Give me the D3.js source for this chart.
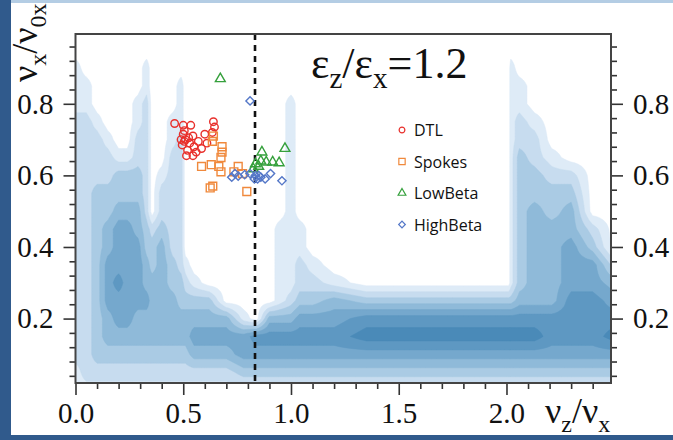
<!DOCTYPE html>
<html>
<head>
<meta charset="utf-8">
<script src="https://cdn.jsdelivr.net/npm/d3@7"></script>
<style>
body { margin: 0; background: #fff; }
svg { display: block; }
</style>
</head>
<body>
<div id="chart"></div>
<script>
// ---- data ----
var dtl = [[0.46, 0.745], [0.50, 0.74], [0.535, 0.74], [0.505, 0.725], [0.64, 0.75], [0.645, 0.735],
    [0.635, 0.72], [0.60, 0.715], [0.50, 0.715], [0.51, 0.70], [0.525, 0.705], [0.545, 0.71],
    [0.55, 0.68], [0.52, 0.67], [0.56, 0.665], [0.515, 0.655], [0.585, 0.675], [0.61, 0.69],
    [0.495, 0.685], [0.53, 0.69], [0.57, 0.695], [0.545, 0.655], [0.505, 0.695], [0.49, 0.70]];
var spokes = [[0.64, 0.71], [0.635, 0.695], [0.68, 0.68], [0.68, 0.665], [0.675, 0.65], [0.585, 0.625],
    [0.63, 0.63], [0.665, 0.625], [0.675, 0.61], [0.625, 0.565], [0.637, 0.57], [0.755, 0.625],
    [0.795, 0.555], [0.735, 0.61], [0.775, 0.605]];
var lowBeta = [[0.672, 0.87], [0.865, 0.665], [0.972, 0.675], [0.915, 0.637], [0.945, 0.635],
    [0.885, 0.637], [0.835, 0.632], [0.85, 0.625], [0.825, 0.618], [0.86, 0.64]];
var highBeta = [[0.81, 0.808], [0.725, 0.595], [0.755, 0.598], [0.785, 0.602], [0.81, 0.605],
    [0.835, 0.60], [0.845, 0.59], [0.86, 0.595], [0.88, 0.59], [0.905, 0.605], [0.958, 0.585],
    [0.83, 0.59], [0.85, 0.60], [0.74, 0.605]];

var seriesNames = ["DTL", "Spokes", "LowBeta", "HighBeta"];
var seriesColors = ["#e8302c", "#f0893c", "#35a03c", "#5578c8"];
var xTicks = [0.0, 0.5, 1.0, 1.5, 2.0];
var yTicks = [0.2, 0.4, 0.6, 0.8];
var resonanceX = 0.833;

// density map behind the points: level per grid node (columns at gridX, rows at gridY, bottom -> top)
var gridX = [0.00, 0.05, 0.10, 0.15, 0.20, 0.24, 0.29, 0.33, 0.355, 0.40, 0.45, 0.49, 0.51, 0.55, 0.62,
    0.70, 0.78, 0.84, 0.90, 0.95, 1.00, 1.04, 1.10, 1.20, 1.35, 1.50, 1.65, 1.80, 1.95, 2.01, 2.02,
    2.06, 2.13, 2.21, 2.30, 2.40, 2.50];
var gridY = [0.00, 0.05, 0.10, 0.15, 0.20, 0.25, 0.30, 0.35, 0.40, 0.45, 0.50, 0.55, 0.60, 0.65,
    0.70, 0.75, 0.80, 0.85, 0.90, 0.95, 1.00];
var levelColumns = [
    "112222222222222211100",
    "122222222222222211000",
    "123333333333222100000",
    "123445554433221000000",
    "123455655543310000000",
    "123455555543310000000",
    "123445555443322110000",
    "123445443322222221100",
    "123444433200000000000",
    "123444444322100000000",
    "123444332222221100000",
    "123443322222222111000",
    "123443210000000000000",
    "124543100000000000000",
    "124543000000000000000",
    "124540000000000000000",
    "135510000000000000000",
    "135600000000000000000",
    "135640000000000000000",
    "135641111100000000000",
    "135642111111111110000",
    "135653221100000000000",
    "135653210000000000000",
    "135654100000000000000",
    "135763000000000000000",
    "135763000000000000000",
    "135763000000000000000",
    "135763000000000000000",
    "135763000000000000000",
    "135763000000000000000",
    "135763111111111111100",
    "135764333333332211000",
    "135764444443322100000",
    "135664444433210000000",
    "135666555443200000000",
    "135666553200000000000",
    "135765420000000000000"
];
var levelThresholds = [0.5, 1.5, 2.5, 3.5, 4.5, 5.5, 6.5];
var levelColors = ["#deebf7", "#c7dcef", "#aacbe4", "#8fbad9", "#75a8cd", "#5e98c2", "#4a8ab8"];

// ---- layout ----
var W = 673, H = 440;
var serif = "'Liberation Serif', 'Times New Roman', serif";

var svg = d3.select("#chart").append("svg").attr("width", W).attr("height", H);

// slide border
svg.append("rect").attr("x", 0).attr("y", 0).attr("width", W).attr("height", 3).attr("fill", "#b4cde4");
svg.append("rect").attr("x", 0).attr("y", 0).attr("width", 11).attr("height", H).attr("fill", "#305a8c");
svg.append("rect").attr("x", 0).attr("y", 435).attr("width", W).attr("height", 5).attr("fill", "#305a8c");

var x = d3.scaleLinear().domain([0, 2.485]).range([75.5, 611]);
var y = d3.scaleLinear().domain([0.02, 0.995]).range([383, 34]);

svg.append("clipPath").attr("id", "plotClip").append("rect")
    .attr("x", x.range()[0]).attr("y", y.range()[1])
    .attr("width", x.range()[1] - x.range()[0]).attr("height", y.range()[0] - y.range()[1]);

// contour layers: the coarse grid is refined (bilinear) so the bands come out smooth
var nx = gridX.length, ny = gridY.length;
var f = 6;
var fx = (nx - 1) * f + 1, fy = (ny - 1) * f + 1;
function level(i, j) { return +levelColumns[i][j]; }
var values = new Array(fx * fy);
for (var J = 0; J < fy; J++) {
    var j0 = Math.min(Math.floor(J / f), ny - 2), v = J / f - j0;
    for (var I = 0; I < fx; I++) {
        var i0 = Math.min(Math.floor(I / f), nx - 2), u = I / f - i0;
        values[J * fx + I] = (1 - u) * (1 - v) * level(i0, j0) + u * (1 - v) * level(i0 + 1, j0)
            + (1 - u) * v * level(i0, j0 + 1) + u * v * level(i0 + 1, j0 + 1);
    }
}
function gridToData(c, arr) {
    var t = (c - 0.5) / f;
    if (t <= 0) return arr[0];
    if (t >= arr.length - 1) return arr[arr.length - 1];
    var k = Math.floor(t);
    return arr[k] + (t - k) * (arr[k + 1] - arr[k]);
}
var contours = d3.contours().size([fx, fy]).smooth(true).thresholds(levelThresholds)(values);
var path = d3.geoPath(d3.geoTransform({
    point: function (px, py) {
        this.stream.point(x(gridToData(px, gridX)), y(gridToData(py, gridY)));
    }
}));
svg.append("g").attr("clip-path", "url(#plotClip)")
    .selectAll("path")
    .data(contours)
    .enter().append("path")
    .attr("d", path)
    .attr("fill", function (d, k) { return levelColors[k]; })
    .attr("stroke", function (d, k) { return levelColors[k]; })
    .attr("stroke-width", 0.5);

// dashed line
svg.append("line")
    .attr("x1", x(resonanceX)).attr("x2", x(resonanceX))
    .attr("y1", y.range()[1]).attr("y2", y.range()[0])
    .attr("stroke", "#111").attr("stroke-width", 2.6).attr("stroke-dasharray", "6,5");

// axes
var minorY = d3.range(0.04, 0.99, 0.04).filter(function (v) { return Math.abs(v / 0.2 - Math.round(v / 0.2)) > 0.01; });
var minorX = d3.range(0.1, 2.45, 0.1).filter(function (v) { return Math.abs(v / 0.5 - Math.round(v / 0.5)) > 0.01; });

function styleAxis(g) {
    g.select(".domain").remove();
    g.selectAll("line").attr("stroke", "#333").attr("stroke-width", 1.6);
    g.selectAll("text").attr("font-family", serif).attr("font-size", 29).attr("fill", "#111");
}
svg.append("g").attr("transform", "translate(" + x.range()[0] + ",0)")
    .call(d3.axisLeft(y).tickValues(minorY).tickSize(6).tickFormat("")).call(styleAxis);
svg.append("g").attr("transform", "translate(" + x.range()[0] + ",0)")
    .call(d3.axisLeft(y).tickValues(yTicks).tickSize(12).tickPadding(10).tickFormat(d3.format(".1f"))).call(styleAxis);
svg.append("g").attr("transform", "translate(" + x.range()[1] + ",0)")
    .call(d3.axisRight(y).tickValues(minorY).tickSize(6).tickFormat("")).call(styleAxis);
svg.append("g").attr("transform", "translate(" + x.range()[1] + ",0)")
    .call(d3.axisRight(y).tickValues(yTicks).tickSize(12).tickPadding(10).tickFormat(d3.format(".1f"))).call(styleAxis);
svg.append("g").attr("transform", "translate(0," + y.range()[0] + ")")
    .call(d3.axisBottom(x).tickValues(minorX).tickSize(6).tickFormat("")).call(styleAxis);
svg.append("g").attr("transform", "translate(0," + y.range()[0] + ")")
    .call(d3.axisBottom(x).tickValues(xTicks).tickSize(12).tickPadding(7).tickFormat(d3.format(".1f"))).call(styleAxis);

// frame
svg.append("rect")
    .attr("x", x.range()[0]).attr("y", y.range()[1])
    .attr("width", x.range()[1] - x.range()[0]).attr("height", y.range()[0] - y.range()[1])
    .attr("fill", "none").attr("stroke", "#444").attr("stroke-width", 2);

// scatter points
var seriesData = [dtl, spokes, lowBeta, highBeta];
var symbols = [d3.symbolCircle, d3.symbolSquare, d3.symbolTriangle, d3.symbolSquare];
var symSizes = [44, 62, 42, 34];
var legSizes = [26, 40, 26, 22];
var rotations = [0, 0, 0, 45];

seriesData.forEach(function (pts, s) {
    svg.append("g").selectAll("path")
        .data(pts)
        .enter().append("path")
        .attr("d", d3.symbol().type(symbols[s]).size(symSizes[s]))
        .attr("transform", function (d) {
            return "translate(" + x(d[0]) + "," + y(d[1]) + ") rotate(" + rotations[s] + ")";
        })
        .attr("fill", "none")
        .attr("stroke", seriesColors[s])
        .attr("stroke-width", 1.4);
});

// legend
var legend = svg.append("g").attr("transform", "translate(402,130)");
seriesNames.forEach(function (name, s) {
    var row = legend.append("g").attr("transform", "translate(0," + (s * 31.5) + ")");
    row.append("path")
        .attr("d", d3.symbol().type(symbols[s]).size(legSizes[s]))
        .attr("transform", "rotate(" + rotations[s] + ")")
        .attr("fill", "none").attr("stroke", seriesColors[s]).attr("stroke-width", 1.2);
    row.append("text")
        .attr("x", 12).attr("y", 6)
        .attr("font-family", "'Open Sans', sans-serif").attr("font-size", 16)
        .attr("fill", "#111")
        .text(name);
});

// title
var title = svg.append("text").attr("x", 311).attr("y", 78)
    .attr("font-family", serif).attr("font-size", 44).attr("fill", "#111");
title.append("tspan").text("\u03b5");
title.append("tspan").attr("font-size", 29).attr("dy", 10).text("z");
title.append("tspan").attr("dy", -10).text("/\u03b5");
title.append("tspan").attr("font-size", 29).attr("dy", 10).text("x");
title.append("tspan").attr("dy", -10).text("=1.2");

// axis labels
var xl = svg.append("text").attr("x", 545).attr("y", 423)
    .attr("font-family", serif).attr("font-size", 36).attr("fill", "#111");
xl.append("tspan").text("\u03bd");
xl.append("tspan").attr("font-size", 24).attr("dy", 9).text("z");
xl.append("tspan").attr("dy", -9).text("/\u03bd");
xl.append("tspan").attr("font-size", 24).attr("dy", 9).text("x");

var yl = svg.append("text").attr("transform", "translate(37,82) rotate(-90)")
    .attr("font-family", serif).attr("font-size", 36).attr("fill", "#111");
yl.append("tspan").text("\u03bd");
yl.append("tspan").attr("font-size", 24).attr("dy", 9).text("x");
yl.append("tspan").attr("dy", -9).text("/\u03bd");
yl.append("tspan").attr("font-size", 24).attr("dy", 9).text("0x");
</script>
</body>
</html>
